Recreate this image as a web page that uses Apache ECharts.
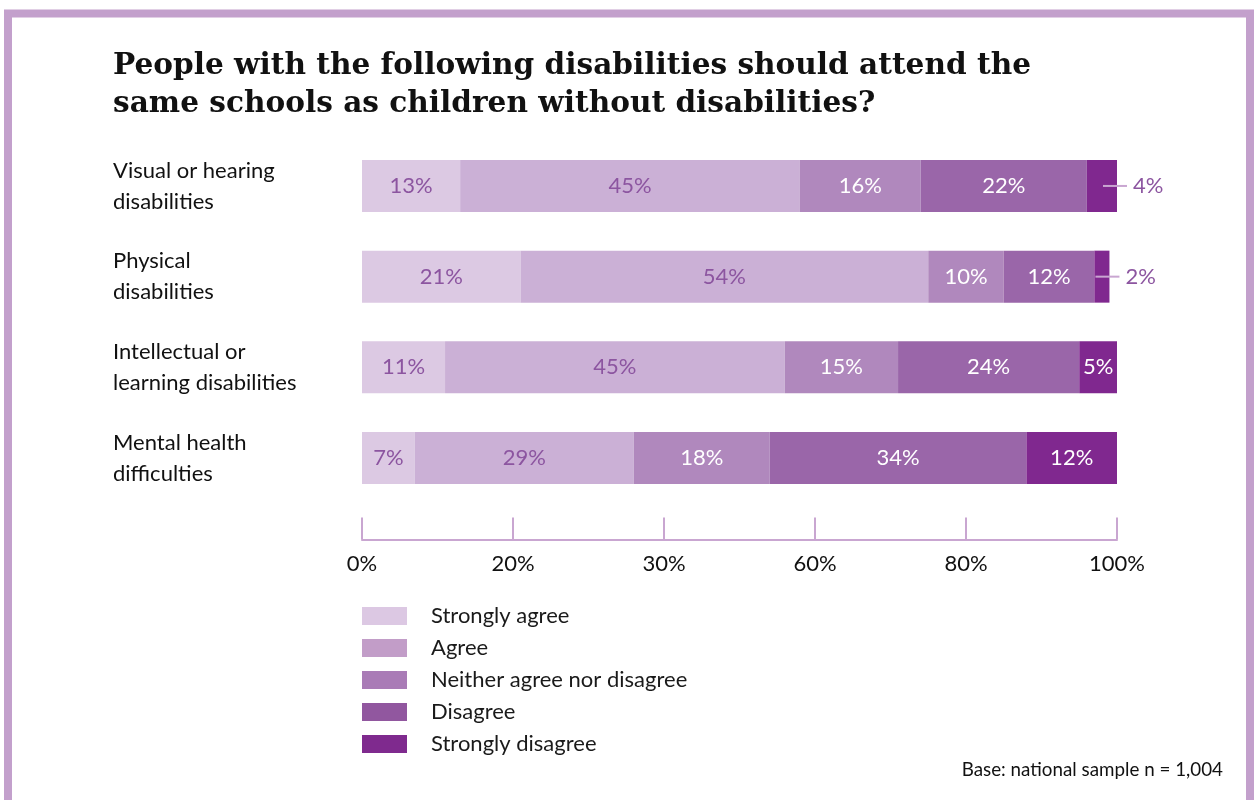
<!DOCTYPE html>
<html>
<head>
<meta charset="utf-8">
<script src="https://cdn.jsdelivr.net/npm/echarts@6/dist/echarts.min.js"></script>
<style>
  html, body { margin: 0; padding: 0; background: #ffffff; }
  #chart { width: 1255px; height: 800px; }
</style>
</head>
<body>
<div id="chart"></div>
<script>
// Survey responses per disability group (percent of respondents)
const categories = [
  'Visual or hearing\ndisabilities',
  'Physical\ndisabilities',
  'Intellectual or\nlearning disabilities',
  'Mental health\ndifficulties'
];
const responseNames = ['Strongly agree', 'Agree', 'Neither agree nor disagree', 'Disagree', 'Strongly disagree'];
const stronglyAgree    = [13, 21, 11, 7];
const agree            = [45, 54, 45, 29];
const neither          = [16, 10, 15, 18];
const disagree         = [22, 12, 24, 34];
const stronglyDisagree = [4, 2, 5, 12];
const tickLabels = ['0%', '20%', '30%', '60%', '80%', '100%'];

const responseValues = [stronglyAgree, agree, neither, disagree, stronglyDisagree];
const barColors    = ['#dcc9e3', '#cbb0d6', '#b088bd', '#9a66a9', '#80288f'];
const legendColors = ['#dcc8e3', '#c29dc8', '#a97bb6', '#91579f', '#7f2a8e'];
const labelColors  = ['#8c55a0', '#8c55a0', '#ffffff', '#ffffff', '#ffffff'];
const leaderColor  = '#c9a6d1';
const labelFont = 'Lato, "Open Sans", sans-serif';

const chart = echarts.init(document.getElementById('chart'), null, { renderer: 'canvas' });

const series = responseNames.map((name, i) => ({
  name: name,
  type: 'bar',
  stack: 'total',
  barWidth: 52,
  itemStyle: { color: barColors[i] },
  label: {
    show: true,
    position: 'inside',
    formatter: '{c}%',
    color: labelColors[i],
    fontSize: 22,
    fontFamily: labelFont
  },
  emphasis: { disabled: true },
  data: responseValues[i].map(v => {
    // segments too narrow for an inside label get a leader line and an outside label
    if (i === responseNames.length - 1 && v < 5) {
      return {
        value: v,
        label: {
          position: 'right',
          distance: 0,
          offset: [-14, 0],
          formatter: '{l| }{t|{c}%}',
          rich: {
            l: { width: 24, height: 2, backgroundColor: leaderColor },
            t: { color: '#8c55a0', fontSize: 22, fontFamily: labelFont, padding: [0, 0, 0, 6] }
          }
        }
      };
    }
    return v;
  })
}));

chart.setOption({
  animation: false,
  backgroundColor: '#ffffff',
  title: [
    {
      text: 'People with the following disabilities should attend the\nsame schools as children without disabilities?',
      left: 113,
      top: 47,
      padding: 0,
      textStyle: {
        fontFamily: '"DejaVu Serif", serif',
        fontWeight: 'bold',
        fontSize: 29.6,
        lineHeight: 38,
        color: '#111111'
      }
    },
    {
      text: 'Base: national sample n = 1,004',
      right: 32,
      top: 760,
      padding: 0,
      textStyle: {
        fontFamily: labelFont,
        fontWeight: 'normal',
        fontSize: 18.8,
        color: '#111111'
      }
    }
  ],
  graphic: [
    {
      type: 'rect',
      shape: { x: 8, y: 13.5, width: 1242, height: 820 },
      style: { fill: 'none', stroke: '#c3a0cc', lineWidth: 8 },
      silent: true
    }
  ],
  legend: {
    orient: 'vertical',
    left: 362,
    top: 605,
    padding: 0,
    itemWidth: 45,
    itemHeight: 18,
    itemGap: 10,
    icon: 'rect',
    selectedMode: false,
    textStyle: {
      fontFamily: labelFont,
      fontSize: 22,
      color: '#1a1a1a',
      padding: [0, 0, 0, 19]
    },
    data: responseNames.map((n, i) => ({ name: n, itemStyle: { color: legendColors[i] } }))
  },
  grid: {
    left: 362,
    right: 138,
    top: 140.6,
    bottom: 296.6,
    containLabel: false
  },
  xAxis: {
    type: 'value',
    min: 0,
    max: 100,
    interval: 20,
    offset: 36,
    splitLine: { show: false },
    axisLine: { show: true, lineStyle: { color: '#c9a6d1', width: 2 } },
    axisTick: { show: true, inside: true, length: 22, lineStyle: { color: '#c9a6d1', width: 2 } },
    axisLabel: {
      margin: 14,
      fontFamily: labelFont,
      fontSize: 22,
      color: '#111111',
      formatter: (v) => tickLabels[Math.round(v / 20)]
    }
  },
  yAxis: {
    type: 'category',
    inverse: true,
    data: categories,
    axisLine: { show: false },
    axisTick: { show: false },
    axisLabel: {
      align: 'left',
      margin: 249,
      fontFamily: labelFont,
      fontSize: 22,
      lineHeight: 31,
      color: '#111111'
    }
  },
  series: series
});
</script>
</body>
</html>
